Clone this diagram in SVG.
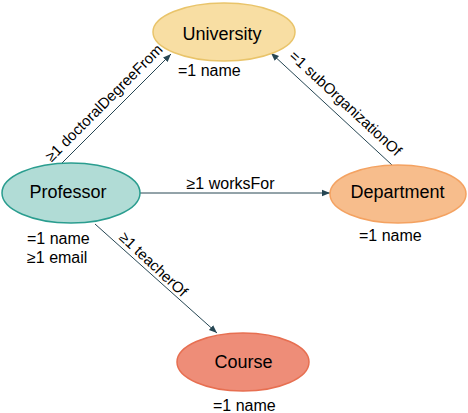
<svg xmlns="http://www.w3.org/2000/svg" width="468" height="413" viewBox="0 0 468 413">
<style>
text{font-family:"Liberation Sans",Arial,sans-serif;fill:#000}
.node{font-size:18px;text-anchor:middle}
.lbl{font-size:16px}
.elbl{font-size:15px;text-anchor:middle}
.hlbl{font-size:16px;text-anchor:middle}
.edge{stroke:#264653;stroke-width:1;fill:none;marker-end:url(#arr)}
</style>
<defs>
<marker id="arr" viewBox="0 0 10 10" refX="10" refY="5" markerWidth="8" markerHeight="8" markerUnits="userSpaceOnUse" orient="auto">
<path d="M0,1 L10,5 L0,9 z" fill="#264653"/>
</marker>
</defs>
<g id="edges">
<line class="edge" x1="60" y1="165" x2="171" y2="54"/>
<line class="edge" x1="392" y1="165" x2="271" y2="53"/>
<line class="edge" x1="140" y1="193" x2="330" y2="193"/>
<line class="edge" x1="95" y1="224" x2="217" y2="333"/>
<text class="elbl" transform="translate(107.5,106.5) rotate(-45)">≥1 doctoralDegreeFrom</text>
<text class="elbl" transform="translate(342,107) rotate(42.8)">=1 subOrganizationOf</text>
<text class="hlbl" x="230.5" y="189">≥1 worksFor</text>
<text class="elbl" transform="translate(150,268) rotate(43)">≥1 teacherOf</text>
</g>
<g id="University">
<ellipse cx="224" cy="32" rx="71" ry="29" fill="#f8dea3" stroke="#e9c46a" stroke-width="1.5"/>
<text class="node" x="222" y="40">University</text>
<text class="lbl" x="178" y="76">=1 name</text>
</g>
<g id="Professor">
<ellipse cx="71" cy="193" rx="69" ry="30" fill="#b1dcd6" stroke="#2a9d8f" stroke-width="1.5"/>
<text class="node" x="68" y="198">Professor</text>
<text class="lbl" x="27" y="244">=1 name</text>
<text class="lbl" x="27" y="263">≥1 email</text>
</g>
<g id="Department">
<ellipse cx="398" cy="194" rx="68" ry="29" fill="#f7bd8c" stroke="#f4a261" stroke-width="1.5"/>
<text class="node" x="397.5" y="198">Department</text>
<text class="lbl" x="359" y="241">=1 name</text>
</g>
<g id="Course">
<ellipse cx="243" cy="362" rx="66" ry="29" fill="#ee8d78" stroke="#e76f51" stroke-width="1.5"/>
<text class="node" x="243.5" y="368">Course</text>
<text class="lbl" x="213" y="411">=1 name</text>
</g>
</svg>
